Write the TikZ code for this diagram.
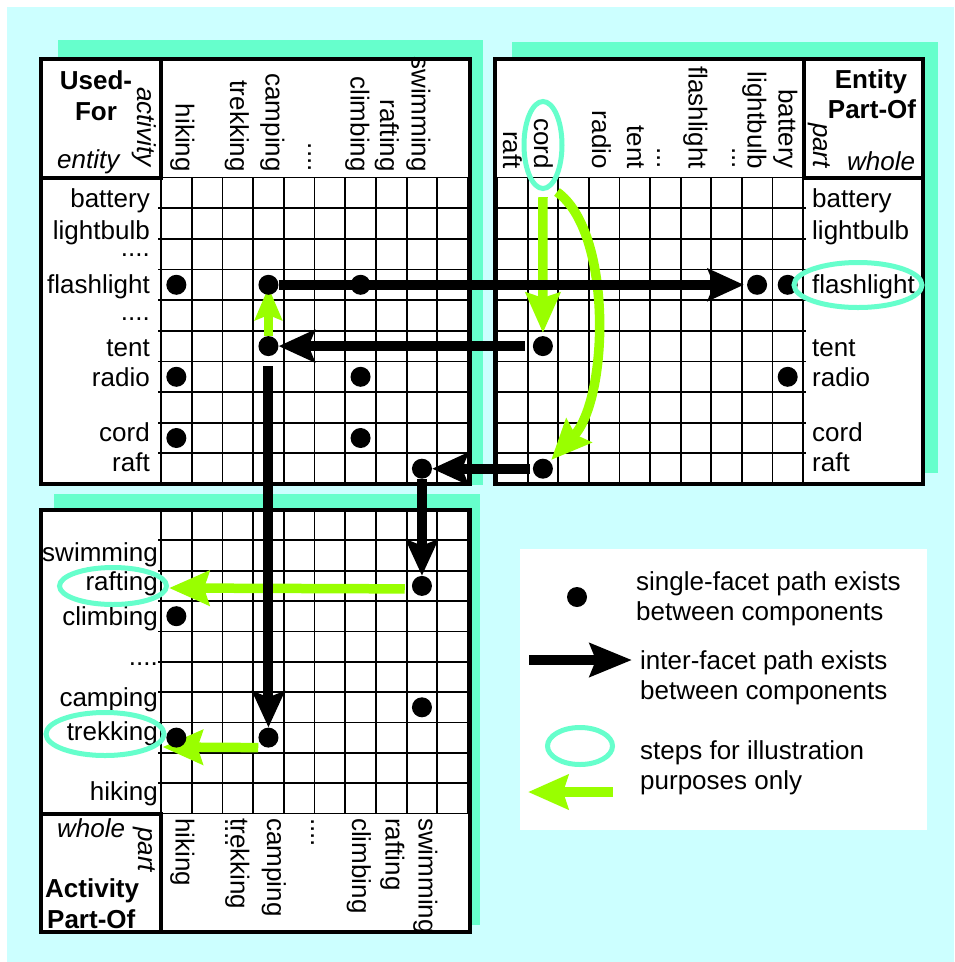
\documentclass[tikz,border=0pt]{standalone}
\usepackage{fontspec}
\setmainfont{Liberation Sans}
\usepackage{tikz}
\usetikzlibrary{arrows.meta,calc,shapes.geometric}
\definecolor{SkyBack}{HTML}{CCFFFF}
\definecolor{MintShade}{HTML}{66FFCC}
\definecolor{StepGreen}{HTML}{99FF00}
\pgfdeclarelayer{front}
\pgfsetlayers{main,front}

\begin{document}
\begin{tikzpicture}[x=1pt,y=-1pt,>=Stealth,font=\fontsize{26}{30}\selectfont]
\tikzset{panelbox/.style={draw,fill=white,line width=4pt,anchor=north west,inner sep=0pt,outer sep=0pt},
         cornerbox/.style={draw,line width=4pt,anchor=north west,inner sep=0pt,outer sep=0pt},
         gridline/.style={line width=1.8pt},
         dotmark/.style={circle,fill,inner sep=0pt,minimum size=20pt},
         rowlbl/.style={inner sep=0pt,anchor=base east},
         rowlblr/.style={inner sep=0pt,anchor=base west},
         collbl/.style={inner sep=0pt,rotate=-90,anchor=base east},
         collbldown/.style={inner sep=0pt,rotate=-90,anchor=base west},
         headword/.style={inner sep=0pt,font=\fontsize{26}{30}\selectfont\bfseries},
         facetword/.style={inner sep=0pt,font=\fontsize{26}{30}\selectfont\itshape},
         ringmark/.style={ellipse,draw=MintShade,line width=5pt,inner sep=0pt},
         facetarrow/.style={line width=10pt,-{Stealth[length=36pt,width=32pt,inset=6pt]}},
         steparrow/.style={StepGreen,line width=9.5pt,-{Stealth[length=40pt,width=34pt,inset=5pt]}},
         keytext/.style={inner sep=0pt,anchor=north west,align=left}}
\useasboundingbox (0,0) rectangle (954,962);
\fill[SkyBack] (7,7) rectangle (954,962);
\fill[MintShade] (58,40) rectangle (483,485);
\fill[MintShade] (512,42) rectangle (938,473);
\fill[MintShade] (54,494) rectangle (480,925);
\node[panelbox,minimum width=429pt,minimum height=425pt] (uf) at (41,59) {};
\node[panelbox,minimum width=428pt,minimum height=425pt] (ep) at (495,59) {};
\node[panelbox,minimum width=429pt,minimum height=422pt] (ap) at (41,510) {};
\foreach \i in {0,...,10} {
  \draw[gridline] ({161+30.7*\i},177.5) -- ({161+30.7*\i},484);
  \draw[gridline] (158,{177.5+30.65*\i}) -- (470,{177.5+30.65*\i});
  \draw[gridline] ({497+30.6*\i},177.5) -- ({497+30.6*\i},484);
  \draw[gridline] (495,{177.5+30.65*\i}) -- (806,{177.5+30.65*\i});
  \draw[gridline] ({161+30.7*\i},510) -- ({161+30.7*\i},813.5);
  \draw[gridline] (158,{510+30.35*\i}) -- (470,{510+30.35*\i});
}
\node[cornerbox,minimum width=120pt,minimum height=118.5pt] (uf-corner) at (41,59) {};
\node[cornerbox,minimum width=119.5pt,minimum height=118.5pt] (ep-corner) at (803.5,59) {};
\node[cornerbox,minimum width=120pt,minimum height=118.5pt] (ap-corner) at (41,813.5) {};
\node[headword,anchor=base] (uf-used) at (96,89) {Used-};
\node[headword,anchor=base] (uf-for) at (96,120) {For};
\node[facetword,rotate=-90,anchor=base west] (uf-activity) at (137,87) {activity};
\node[facetword,anchor=base west] (uf-entity) at (57,168) {entity};
\node[headword,anchor=base] (ep-entity) at (871,88) {Entity};
\node[headword,anchor=base] (ep-partof) at (872,118) {Part-Of};
\node[facetword,rotate=-90,anchor=base east] (ep-part) at (813.5,168) {part};
\node[facetword,anchor=base west] (ep-whole) at (847,170) {whole};
\node[facetword,anchor=base west] (ap-whole) at (57,837) {whole};
\node[facetword,rotate=-90,anchor=base west] (ap-part) at (138.5,827) {part};
\node[headword,anchor=base west] (ap-activity) at (45,897) {Activity};
\node[headword,anchor=base west] (ap-partof) at (47,928) {Part-Of};
\node[rowlbl] (u-battery) at (150,207.5) {battery};
\node[rowlbl] (u-lightbulb) at (150,239) {lightbulb};
\node[rowlbl] (u-dots1) at (150,256) {....};
\node[rowlbl] (u-flashlight) at (150,293.5) {flashlight};
\node[rowlbl] (u-dots2) at (150,320) {....};
\node[rowlbl] (u-tent) at (150,356.5) {tent};
\node[rowlbl] (u-radio) at (150,386.5) {radio};
\node[rowlbl] (u-cord) at (150,441.5) {cord};
\node[rowlbl] (u-raft) at (150,471.5) {raft};
\node[collbl] (u-hiking) at (175.5,172) {hiking};
\node[collbl] (u-trekking) at (230,172) {trekking};
\node[collbl] (u-camping) at (265.5,172) {camping};
\node[collbl] (u-dots3) at (308,172) {....};
\node[collbl] (u-climbing) at (350.5,172) {climbing};
\node[collbl] (u-rafting) at (380,172) {rafting};
\node[collbl] (u-swimming) at (411.5,172) {swimming};
\node[rowlblr] (e-battery) at (812,207.5) {battery};
\node[rowlblr] (e-lightbulb) at (812,239) {lightbulb};
\node[rowlblr] (e-flashlight) at (812,293.5) {flashlight};
\node[rowlblr] (e-tent) at (812,356.5) {tent};
\node[rowlblr] (e-radio) at (812,386.5) {radio};
\node[rowlblr] (e-cord) at (812,441.5) {cord};
\node[rowlblr] (e-raft) at (812,471.5) {raft};
\node[collbl] (e-raft-col) at (503,169) {raft};
\node[collbl] (e-cord-col) at (534,169) {cord};
\node[collbl] (e-radio-col) at (592,169) {radio};
\node[collbl] (e-tent-col) at (627,169) {tent};
\node[collbl] (e-dots1) at (657,169) {...};
\node[collbl] (e-flash-col) at (688.5,169) {flashlight};
\node[collbl] (e-dots2) at (732,169) {...};
\node[collbl] (e-bulb-col) at (747.5,169) {lightbulb};
\node[collbl] (e-batt-col) at (778.5,169) {battery};
\node[rowlbl] (a-swimming) at (158,561) {swimming};
\node[rowlbl] (a-rafting) at (158,590) {rafting};
\node[rowlbl] (a-climbing) at (158,625) {climbing};
\node[rowlbl] (a-dots1) at (158,665) {....};
\node[rowlbl] (a-camping) at (158,706) {camping};
\node[rowlbl] (a-trekking) at (158,740) {trekking};
\node[rowlbl] (a-hiking) at (158,800) {hiking};
\node[collbldown] (a-hike-col) at (175.5,818) {hiking};
\node[collbldown] (a-dots2) at (225,818) {....};
\node[collbldown] (a-trek-col) at (230.5,818) {trekking};
\node[collbldown] (a-camp-col) at (267,818) {camping};
\node[collbldown] (a-dots3) at (311,818) {....};
\node[collbldown] (a-climb-col) at (352,818) {climbing};
\node[collbldown] (a-raft-col) at (385.5,818) {rafting};
\node[collbldown] (a-swim-col) at (418.5,818) {swimming};
\begin{pgfonlayer}{front}
\node[dotmark] (u-flash-hike) at (176.35,284.8) {};
\node[dotmark] (u-flash-camp) at (268.45,284.8) {};
\node[dotmark] (u-flash-climb) at (360.55,284.8) {};
\node[dotmark] (u-tent-camp) at (268.45,346.1) {};
\node[dotmark] (u-radio-hike) at (176.35,376.8) {};
\node[dotmark] (u-radio-climb) at (360.55,376.8) {};
\node[dotmark] (u-cord-hike) at (176.35,438) {};
\node[dotmark] (u-cord-climb) at (360.55,438) {};
\node[dotmark] (u-raft-swim) at (421.95,468.7) {};
\node[dotmark] (e-flash-bulb) at (757.1,284.8) {};
\node[dotmark] (e-flash-batt) at (787.7,284.8) {};
\node[dotmark] (e-tent-cord) at (542.9,346.1) {};
\node[dotmark] (e-radio-batt) at (787.7,376.8) {};
\node[dotmark] (e-raft-cord) at (542.9,468.7) {};
\node[dotmark] (a-raft-swim) at (421.95,585.9) {};
\node[dotmark] (a-climb-hike) at (176.35,616.2) {};
\node[dotmark] (a-camp-swim) at (421.95,707.3) {};
\node[dotmark] (a-trek-hike) at (176.35,737.6) {};
\node[dotmark] (a-trek-camp) at (268.45,737.6) {};
\node[ringmark,minimum width=38pt,minimum height=87pt] (ring-cord) at (543,145) {};
\node[ringmark,minimum width=128pt,minimum height=45pt] (ring-flash) at (858,285) {};
\node[ringmark,minimum width=107pt,minimum height=37pt] (ring-rafting) at (113,586) {};
\node[ringmark,minimum width=118pt,minimum height=43pt] (ring-trekking) at (105,734) {};
\end{pgfonlayer}
\draw[steparrow,-{Stealth[length=33pt,width=27pt,inset=5pt]},shorten >=-8pt] (u-tent-camp.north) -- (u-flash-camp.south);
\draw[steparrow,shorten <=6pt,shorten >=3pt] (ring-cord.south) -- (e-tent-cord.north);
\draw[steparrow,shorten >=12pt] ($(ring-cord.south)+(14,1)$) .. controls +(56,40) and +(66,-70) .. (e-raft-cord.center);
\draw[steparrow,shorten <=7pt] ($(a-raft-swim.west)+(0,3)$) -- ($(ring-rafting.east)+(0,2)$);
\draw[steparrow] ($(a-trek-camp.west)+(0,10)$) -- ($(ring-trekking.east)+(-4,13)$);
\draw[facetarrow,shorten >=3pt] (u-flash-camp) -- (e-flash-bulb);
\draw[facetarrow,shorten <=8pt] (e-tent-cord) -- (u-tent-camp);
\draw[facetarrow,shorten <=3pt] (e-raft-cord) -- (u-raft-swim);
\draw[facetarrow,shorten <=10pt] (u-tent-camp) -- (a-trek-camp);
\draw[facetarrow] (u-raft-swim) -- (a-raft-swim);
\node[fill=white,anchor=north west,minimum width=407pt,minimum height=281pt,inner sep=0pt,outer sep=0pt] (legend) at (520,549) {};
\node[dotmark] (key-dot) at (577,597) {};
\node[keytext] (key-single) at (636,571) {single-facet path exists\\between components};
\coordinate (key-facet-a) at (529,660);
\coordinate (key-facet-b) at (632,660);
\draw[facetarrow,-{Stealth[length=42pt,width=33pt,inset=6pt]}] (key-facet-a) -- (key-facet-b);
\node[keytext] (key-inter) at (640,650) {inter-facet path exists\\between components};
\node[ringmark,minimum width=65pt,minimum height=37pt] (key-ring) at (580,746) {};
\coordinate (key-step-a) at (613,792);
\coordinate (key-step-b) at (528,792);
\draw[steparrow] (key-step-a) -- (key-step-b);
\node[keytext] (key-steps) at (640,740.5) {steps for illustration\\purposes only};
\end{tikzpicture}
\end{document}
